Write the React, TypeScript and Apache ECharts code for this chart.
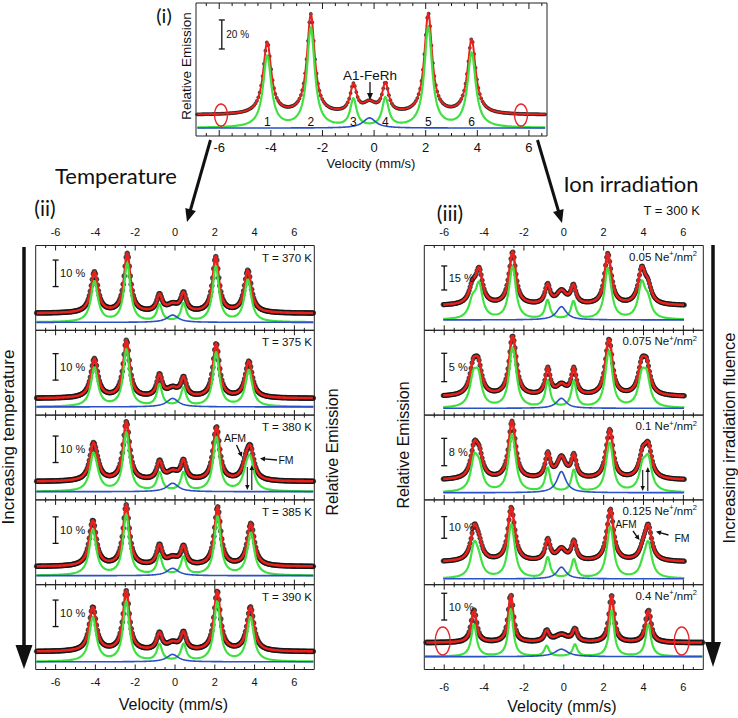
import React, { useEffect, useRef } from "react";
import * as echarts from "echarts";

// ===== Velocity axis (mm/s) =====
const velocityMajorTicks = [-6, -4, -2, 0, 2, 4, 6];
const velocityMinorTicks = [-6.5, -5.5, -5, -4.5, -3.5, -3, -2.5, -1.5, -1, -0.5, 0.5, 1, 1.5, 2.5, 3, 3.5, 4.5, 5, 5.5, 6.5];

// ===== (i) reference spectrum (relative emission, %) =====
const refLinePos = [-4.14, -2.45, -0.8, 0.44, 2.1, 3.78];
const refPeakHeight = [50.3, 69.7, 22.0, 22.8, 70.3, 52.4];
const refLineFwhm = [0.38, 0.36, 0.3, 0.3, 0.36, 0.38];
const refSinglet = [-0.18, 7.0, 0.6]; // position, height, fwhm
const refComponentOffset = 9.0;
const refScaleBar = [45.5, 65.5];
const refScaleLabel = "20 %";
const refLineNumbers = ["1", "2", "3", "4", "5", "6"];

// ===== (ii) temperature series =====
const tempLabels = ["T = 370 K", "T = 375 K", "T = 380 K", "T = 385 K", "T = 390 K"];
const tempLinePos = [
  [-4.05, -2.4, -0.78, 0.43, 2.05, 3.66],
  [-4.05, -2.44, -0.78, 0.43, 2.07, 3.71],
  [-4.11, -2.45, -0.78, 0.43, 2.09, 3.79],
  [-4.13, -2.45, -0.78, 0.43, 2.14, 3.81],
  [-4.13, -2.45, -0.78, 0.43, 2.12, 3.79],
];
const tempPeakHeight = [
  [15.7, 22.6, 7.5, 8.2, 21.4, 16.3],
  [15.1, 22.0, 9.4, 8.4, 20.8, 14.1],
  [14.7, 22.6, 8.2, 8.5, 20.8, 13.8],
  [17.6, 23.3, 8.6, 8.2, 22.6, 16.4],
  [17.0, 23.0, 7.5, 7.8, 23.0, 17.0],
];
const tempLineFwhm = [0.42, 0.38, 0.32, 0.32, 0.38, 0.42];
const tempSingletHeight = [2.75, 3.2, 3.2, 2.8, 2.8];
const tempSingletPos = -0.12;
const tempSingletFwhm = 0.7;
const tempComponentOffset = [3.4, 3.2, 3.8, 3.4, 3.8];
const tempScaleBar = [[10.1, 20.1], [6.9, 16.9], [7.2, 17.2], [8.8, 18.8], [9.5, 19.5]];
const tempScaleLabel = "10 %";
const afm380Pos = [-3.93, -2.34, -0.74, 0.41, 1.98, 3.58];
const afm380Amp = [3, 2, 0.8, 0.8, 2, 5.5];

// ===== (iii) ion irradiation series (T = 300 K) =====
const ionFluence = ["0.05", "0.075", "0.1", "0.125", "0.4"];
const ionMainPos = [
  [-4.25, -2.56, -0.81, 0.48, 2.2, 3.91],
  [-4.54, -2.6, -0.81, 0.51, 2.3, 4.16],
  [-4.49, -2.62, -0.81, 0.51, 2.33, 4.24],
  [-4.49, -2.65, -0.81, 0.51, 2.35, 4.24],
  [-4.51, -2.66, -0.86, 0.56, 2.4, 4.24],
];
const ionPeakHeight = [
  [24, 33.7, 14, 13.6, 32.7, 24.8],
  [6.8, 10.6, 5.2, 5.2, 10.0, 6.8],
  [11.5, 17.1, 8.3, 7.8, 14.7, 11.2],
  [17.5, 25.2, 10.9, 10.1, 24.3, 17.5],
  [12.2, 17.9, 4.8, 5.4, 17.5, 12.2],
];
const ionSecondPos = [
  [-4.58, -2.72, -0.84, 0.52, 2.36, 4.22],
  [-4.29, -2.47, -0.79, 0.49, 2.18, 3.91],
  [-4.24, -2.48, -0.79, 0.49, 2.2, 3.96],
  [-4.26, -2.5, -0.79, 0.49, 2.22, 3.99],
  null,
];
const ionSecondAmp = [
  [10, 4, 1.5, 1.5, 4, 10],
  [4.8, 3.5, 1.5, 1.5, 3.5, 4.8],
  [6, 4, 1.5, 1.5, 4, 6.5],
  [6, 4, 1.5, 1.5, 4, 4.5],
  null,
];
const ionSingletHeight = [8.3, 1.76, 6.2, 5.4, 2.8];
const ionSingletFwhm = [0.6, 0.6, 0.55, 0.55, 0.8];
const ionSingletPos = -0.12;
const ionComponentOffset = [8.9, 2.05, 3.7, 7.8, 5.2];
const ionScaleBar = [[9.8, 24.8], [2.65, 7.65], [4.2, 12.2], [10.9, 20.9], [8.5, 18.5]];
const ionScaleLabel = ["15 %", "5 %", "8 %", "10 %", "10 %"];
const ionLineFwhm = [0.42, 0.38, 0.3, 0.3, 0.38, 0.42];
const ionHighFluenceFwhm = [0.32, 0.3, 0.28, 0.28, 0.3, 0.32];

// ===== Layout & style =====
const FONT = "'Liberation Sans', Arial, sans-serif";
const TITLE_FONT = "Lato, 'Open Sans', sans-serif";
const RED = "#e8211d";
const GREEN = "#3fe03f";
const BLUE = "#2b4fc4";
const DOT = "#151515";
const COL_TOP = 245.5;
const PANEL_H = 84.8;
const LEFT_X = 35.7;
const LEFT_W = 278.6;
const RIGHT_X = 424.3;
const RIGHT_W = 279;
const TOP_GRID = { left: 196, top: 3, width: 351, height: 133 };
const TOP_XR = [-6.9, 6.7];
const tempYRange = [[-6.4, 25.6], [-6.3, 25.7], [-6.9, 25.1], [-6.8, 25.2], [-6.7, 25.3]];
const ionYRange = [[-15.4, 37.6], [-3.25, 11.7], [-5.8, 19.0], [-10.5, 28.6], [-10, 21.7]];

function lor(x: number, c: number, fwhm: number) {
  const g = fwhm / 2;
  return (g * g) / ((x - c) * (x - c) + g * g);
}

function solveAmplitudes(pos: number[], fwhm: number[], peaks: number[], extra: (x: number) => number) {
  const n = pos.length;
  const A = pos.map((xi) => pos.map((xj, j) => lor(xi, xj, fwhm[j])));
  const b = pos.map((xi, i) => peaks[i] - extra(xi));
  for (let k = 0; k < n; k++) {
    let p = k;
    for (let i = k + 1; i < n; i++) if (Math.abs(A[i][k]) > Math.abs(A[p][k])) p = i;
    [A[k], A[p]] = [A[p], A[k]];
    [b[k], b[p]] = [b[p], b[k]];
    for (let i = k + 1; i < n; i++) {
      const f = A[i][k] / A[k][k];
      for (let j = k; j < n; j++) A[i][j] -= f * A[k][j];
      b[i] -= f * b[k];
    }
  }
  const x = new Array(n).fill(0);
  for (let i = n - 1; i >= 0; i--) {
    let s = b[i];
    for (let j = i + 1; j < n; j++) s -= A[i][j] * x[j];
    x[i] = s / A[i][i];
  }
  return x.map((v) => Math.max(0, v));
}

function velocities(a: number, b: number, step: number) {
  const out: number[] = [];
  const n = Math.round((b - a) / step);
  for (let i = 0; i <= n; i++) out.push(+(a + i * step).toFixed(4));
  return out;
}

type Panel = {
  grid: { left: number; top: number; width: number; height: number };
  xr: number[];
  yr: number[];
  pos: number[];
  peaks: number[];
  fwhm: number[];
  secPos: number[] | null;
  secAmp: number[] | null;
  singlet: number[];
  offset: number;
  dataRange: number[];
  compRange: number[];
  dotSize: number;
  dotStep: number;
  redWidth: number;
  bar: number[];
  barX: number;
  barLabel: string;
  barFont: number;
  labelPos: string;
  showLabels: boolean;
  labelSize: number;
  labelMargin: number;
  majorLen: number;
  minorLen: number;
};

function buildPanels(): Panel[] {
  const panels: Panel[] = [];
  panels.push({
    grid: TOP_GRID, xr: TOP_XR, yr: [-14.5, 77.2],
    pos: refLinePos, peaks: refPeakHeight, fwhm: refLineFwhm, secPos: null, secAmp: null,
    singlet: refSinglet, offset: refComponentOffset,
    dataRange: [-6.85, 6.65], compRange: [-6.85, 6.65], dotSize: 3.8, dotStep: 0.055, redWidth: 2,
    bar: refScaleBar, barX: -5.9, barLabel: refScaleLabel, barFont: 10,
    labelPos: "bottom", showLabels: true, labelSize: 13, labelMargin: 5, majorLen: 6, minorLen: 3,
  });
  for (let i = 0; i < 5; i++) {
    panels.push({
      grid: { left: LEFT_X, top: COL_TOP + PANEL_H * i, width: LEFT_W, height: PANEL_H },
      xr: [-7, 7], yr: tempYRange[i],
      pos: tempLinePos[i], peaks: tempPeakHeight[i], fwhm: tempLineFwhm,
      secPos: i === 2 ? afm380Pos : null, secAmp: i === 2 ? afm380Amp : null,
      singlet: [tempSingletPos, tempSingletHeight[i], tempSingletFwhm], offset: tempComponentOffset[i],
      dataRange: [-6.95, 6.95], compRange: [-6.97, 6.97], dotSize: 5.6, dotStep: 0.05, redWidth: 2.6,
      bar: tempScaleBar[i], barX: -6, barLabel: tempScaleLabel, barFont: 11,
      labelPos: i === 0 ? "top" : "bottom", showLabels: i === 0 || i === 4, labelSize: 11,
      labelMargin: i === 0 ? 8 : 7, majorLen: 5, minorLen: 2.5,
    });
  }
  for (let i = 0; i < 5; i++) {
    const last = i === 4;
    panels.push({
      grid: { left: RIGHT_X, top: COL_TOP + PANEL_H * i, width: RIGHT_W, height: PANEL_H },
      xr: [-7, 7], yr: ionYRange[i],
      pos: ionMainPos[i], peaks: ionPeakHeight[i], fwhm: last ? ionHighFluenceFwhm : ionLineFwhm,
      secPos: ionSecondPos[i], secAmp: ionSecondAmp[i],
      singlet: [ionSingletPos, ionSingletHeight[i], ionSingletFwhm[i]], offset: ionComponentOffset[i],
      dataRange: last ? [-6.9, 6.95] : [-6.05, 6.05], compRange: last ? [-6.97, 6.97] : [-6.05, 6.05],
      dotSize: last ? 5.8 : 5.2, dotStep: last ? 0.06 : 0.05, redWidth: 2.6,
      bar: ionScaleBar[i], barX: -6, barLabel: ionScaleLabel[i], barFont: 11,
      labelPos: i === 0 ? "top" : "bottom", showLabels: i === 0 || last, labelSize: 11,
      labelMargin: i === 0 ? 8 : 12, majorLen: 5, minorLen: 2.5,
    });
  }
  return panels;
}

function makeXAxis(gi: number, p: Panel) {
  return {
    type: "value", gridIndex: gi, min: p.xr[0], max: p.xr[1], position: p.labelPos,
    axisLine: { show: false }, splitLine: { show: false }, axisTick: { show: false }, minorTick: { show: false },
    axisLabel: {
      show: p.showLabels, customValues: velocityMajorTicks, margin: p.labelMargin,
      fontSize: p.labelSize, color: "#111", fontFamily: FONT,
    },
  };
}

function makeSeries(gi: number, p: Panel) {
  const sec = (x: number) =>
    p.secPos && p.secAmp ? p.secPos.reduce((s, c, j) => s + (p.secAmp as number[])[j] * lor(x, c, p.fwhm[j]), 0) : 0;
  const sing = (x: number) => p.singlet[1] * lor(x, p.singlet[0], p.singlet[2]);
  const amps = solveAmplitudes(p.pos, p.fwhm, p.peaks, (x) => sec(x) + sing(x));
  const sext = (x: number) => amps.reduce((s, a, j) => s + a * lor(x, p.pos[j], p.fwhm[j]), 0) + sec(x);
  const total = (x: number) => sext(x) + sing(x);
  const fine = velocities(p.dataRange[0], p.dataRange[1], 0.02);
  const comp = velocities(p.compRange[0], p.compRange[1], 0.02);
  const dots = velocities(p.dataRange[0], p.dataRange[1], p.dotStep);
  const common = { xAxisIndex: gi, yAxisIndex: gi, silent: true, animation: false };
  const lineBase = { ...common, type: "line", showSymbol: false, symbol: "none", clip: true };
  const yMid = (p.yr[0] + p.yr[1]) / 2;
  const ticks = velocityMajorTicks.map((v) => [v, yMid, 1]).concat(velocityMinorTicks.map((v) => [v, yMid, 0]));
  return [
    {
      ...common, type: "scatter", z: 2, symbolSize: p.dotSize, itemStyle: { color: DOT },
      data: dots.map((x) => [x, total(x)]),
    },
    { ...lineBase, z: 5, lineStyle: { color: GREEN, width: 2.2, join: "round" }, data: comp.map((x) => [x, sext(x) - p.offset]) },
    { ...lineBase, z: 5, lineStyle: { color: BLUE, width: 1.6, join: "round" }, data: comp.map((x) => [x, sing(x) - p.offset]) },
    { ...lineBase, z: 4, lineStyle: { color: RED, width: p.redWidth, join: "round" }, data: fine.map((x) => [x, total(x)]) },
    {
      ...common, type: "custom", z: 7, clip: false,
      data: ticks,
      encode: { x: 0, y: 1 },
      renderItem: (params: any, api: any) => {
        const cs = params.coordSys;
        const x = api.coord([api.value(0), yMid])[0];
        const len = api.value(2) ? p.majorLen : p.minorLen;
        const st = { stroke: "#1a1a1a", lineWidth: 1 };
        return {
          type: "group",
          children: [
            { type: "line", shape: { x1: x, y1: cs.y, x2: x, y2: cs.y + len }, style: st },
            { type: "line", shape: { x1: x, y1: cs.y + cs.height - len, x2: x, y2: cs.y + cs.height }, style: st },
          ],
        };
      },
    },
    {
      ...common, type: "custom", z: 8, clip: false,
      data: [[p.barX, p.bar[0], p.bar[1]]],
      encode: { x: 0, y: [1, 2] },
      renderItem: (_params: any, api: any) => {
        const a = api.coord([api.value(0), api.value(1)]);
        const b = api.coord([api.value(0), api.value(2)]);
        const cap = 3;
        const st = { stroke: "#111", lineWidth: 1.3 };
        return {
          type: "group",
          children: [
            { type: "line", shape: { x1: a[0], y1: a[1], x2: b[0], y2: b[1] }, style: st },
            { type: "line", shape: { x1: a[0] - cap, y1: a[1], x2: a[0] + cap, y2: a[1] }, style: st },
            { type: "line", shape: { x1: b[0] - cap, y1: b[1], x2: b[0] + cap, y2: b[1] }, style: st },
            {
              type: "text", x: a[0] + 4.5, y: (a[1] + b[1]) / 2,
              style: { text: p.barLabel, fontSize: p.barFont, fontFamily: FONT, fill: "#111", align: "left", verticalAlign: "middle" },
            },
          ],
        };
      },
    },
  ];
}

function txt(x: number, y: number, text: string, size: number, o: any = {}) {
  return {
    type: "text", x, y, rotation: o.rotation || 0, silent: true, z: 100,
    style: {
      text, fontSize: size, fontFamily: o.font || FONT, fill: o.color || "#111",
      align: o.align || "center", verticalAlign: o.vAlign || "middle", rich: o.rich,
    },
  };
}

function arrow(x1: number, y1: number, x2: number, y2: number, width: number, headLen: number, headHalf: number) {
  const dx = x2 - x1, dy = y2 - y1;
  const L = Math.hypot(dx, dy);
  const ux = dx / L, uy = dy / L;
  const bx = x2 - ux * headLen, by = y2 - uy * headLen;
  const px = -uy, py = ux;
  return {
    type: "group", silent: true, z: 100,
    children: [
      { type: "line", z: 100, shape: { x1, y1, x2: bx + ux, y2: by + uy }, style: { stroke: "#111", lineWidth: width } },
      {
        type: "polygon", z: 100,
        shape: { points: [[x2, y2], [bx + px * headHalf, by + py * headHalf], [bx - px * headHalf, by - py * headHalf]] },
        style: { fill: "#111" },
      },
    ],
  };
}

function ellipse(cx: number, cy: number, rx: number, ry: number) {
  return { type: "ellipse", silent: true, z: 100, shape: { cx, cy, rx, ry }, style: { fill: "none", stroke: "#e8262a", lineWidth: 1.4 } };
}

function buildGraphics() {
  const g: any[] = [];
  const topX = (v: number) => TOP_GRID.left + ((v - TOP_XR[0]) / (TOP_XR[1] - TOP_XR[0])) * TOP_GRID.width;
  // (i)
  g.push(txt(164, 15, "(i)", 20, { font: TITLE_FONT }));
  g.push(txt(186.5, 66, "Relative Emission", 13.5, { rotation: Math.PI / 2 }));
  g.push(txt(371, 163, "Velocity (mm/s)", 13));
  g.push(txt(370, 75, "A1-FeRh", 13.5));
  g.push(arrow(370, 82, 370, 100, 1.3, 7, 3));
  refLinePos.forEach((v, i) => g.push(txt(topX(v), 122, refLineNumbers[i], 12)));
  g.push(ellipse(221, 115, 6.5, 11));
  g.push(ellipse(521, 115, 6.5, 11));
  // connecting arrows
  g.push(arrow(210.5, 140, 187, 222, 3, 13, 5.5));
  g.push(arrow(537.5, 140, 562, 223, 3, 13, 5.5));
  g.push(txt(116, 175, "Temperature", 22, { font: TITLE_FONT }));
  g.push(txt(631, 183, "Ion irradiation", 22, { font: TITLE_FONT }));
  g.push(txt(45, 207, "(ii)", 21, { font: TITLE_FONT }));
  g.push(txt(450, 212, "(iii)", 21, { font: TITLE_FONT }));
  g.push(txt(700, 210, "T = 300 K", 13, { align: "right" }));
  // side arrows & labels
  g.push(arrow(24, 247, 24, 669, 3.5, 24, 8.5));
  g.push(txt(8.5, 437, "Increasing temperature", 17, { rotation: Math.PI / 2 }));
  g.push(arrow(713, 245, 713, 667, 3.5, 25, 8));
  g.push(txt(729, 438, "Increasing irradiation fluence", 16.5, { rotation: Math.PI / 2 }));
  g.push(txt(332, 452, "Relative Emission", 16, { rotation: Math.PI / 2 }));
  g.push(txt(403, 445, "Relative Emission", 16, { rotation: Math.PI / 2 }));
  g.push(txt(173.5, 704, "Velocity (mm/s)", 16));
  g.push(txt(562, 706.5, "Velocity (mm/s)", 16));
  // panel labels
  tempLabels.forEach((t, i) => g.push(txt(312, COL_TOP + PANEL_H * i + 12, t, 11.5, { align: "right" })));
  ionFluence.forEach((f, i) =>
    g.push(
      txt(697, COL_TOP + PANEL_H * i + 11, `{n|${f} Ne}{s|+}{n|/nm}{s|2}`, 11.5, {
        align: "right",
        rich: {
          n: { fontSize: 11.5, fontFamily: FONT, fill: "#111", lineHeight: 14 },
          s: { fontSize: 7.5, fontFamily: FONT, fill: "#111", verticalAlign: "top" },
        },
      })
    )
  );
  // 380 K annotations
  g.push(txt(235, 437.5, "AFM", 10.5));
  g.push(arrow(236.5, 445, 242, 457, 1.3, 5, 2.5));
  g.push(txt(286, 459.5, "FM", 10.5));
  g.push(arrow(277, 460, 260, 458.5, 1.3, 5, 2.5));
  g.push(arrow(247.3, 467, 247.3, 490, 1.1, 5, 2.2));
  g.push(arrow(251.8, 490, 251.8, 465, 1.1, 5, 2.2));
  // 0.1 annotations
  g.push(arrow(642.7, 470, 642.7, 491, 1.1, 5, 2.2));
  g.push(arrow(647.8, 491, 647.8, 467, 1.1, 5, 2.2));
  // 0.125 annotations
  g.push(txt(626, 524.5, "AFM", 10));
  g.push(arrow(633, 531, 639.5, 540, 1.3, 5, 2.5));
  g.push(txt(682, 538, "FM", 10.5));
  g.push(arrow(668.5, 535, 656, 531.5, 1.3, 5, 2.5));
  // 0.4 ellipses
  g.push(ellipse(442.7, 641, 7.5, 14));
  g.push(ellipse(681.7, 641, 7.5, 14));
  return g;
}

function buildOption() {
  const panels = buildPanels();
  const grids: any[] = [];
  const xAxes: any[] = [];
  const yAxes: any[] = [];
  const series: any[] = [];
  panels.forEach((p, gi) => {
    grids.push({
      left: p.grid.left, top: p.grid.top, width: p.grid.width, height: p.grid.height,
      show: true, borderColor: "#222", borderWidth: 1, backgroundColor: "transparent", containLabel: false,
    });
    xAxes.push(makeXAxis(gi, p));
    yAxes.push({ type: "value", gridIndex: gi, min: p.yr[0], max: p.yr[1], show: false, splitLine: { show: false } });
    series.push(...makeSeries(gi, p));
  });
  return {
    animation: false,
    backgroundColor: "#ffffff",
    grid: grids,
    xAxis: xAxes,
    yAxis: yAxes,
    series,
    graphic: buildGraphics(),
  };
}

export default function App() {
  const ref = useRef<HTMLDivElement>(null);
  useEffect(() => {
    if (!ref.current) return;
    const chart = echarts.init(ref.current, null, { renderer: "svg" });
    chart.setOption(buildOption() as any);
    return () => chart.dispose();
  }, []);
  return (
    <div
      ref={ref}
      style={{ position: "absolute", left: 0, top: 0, width: 738, height: 718, background: "#fff" }}
    />
  );
}
